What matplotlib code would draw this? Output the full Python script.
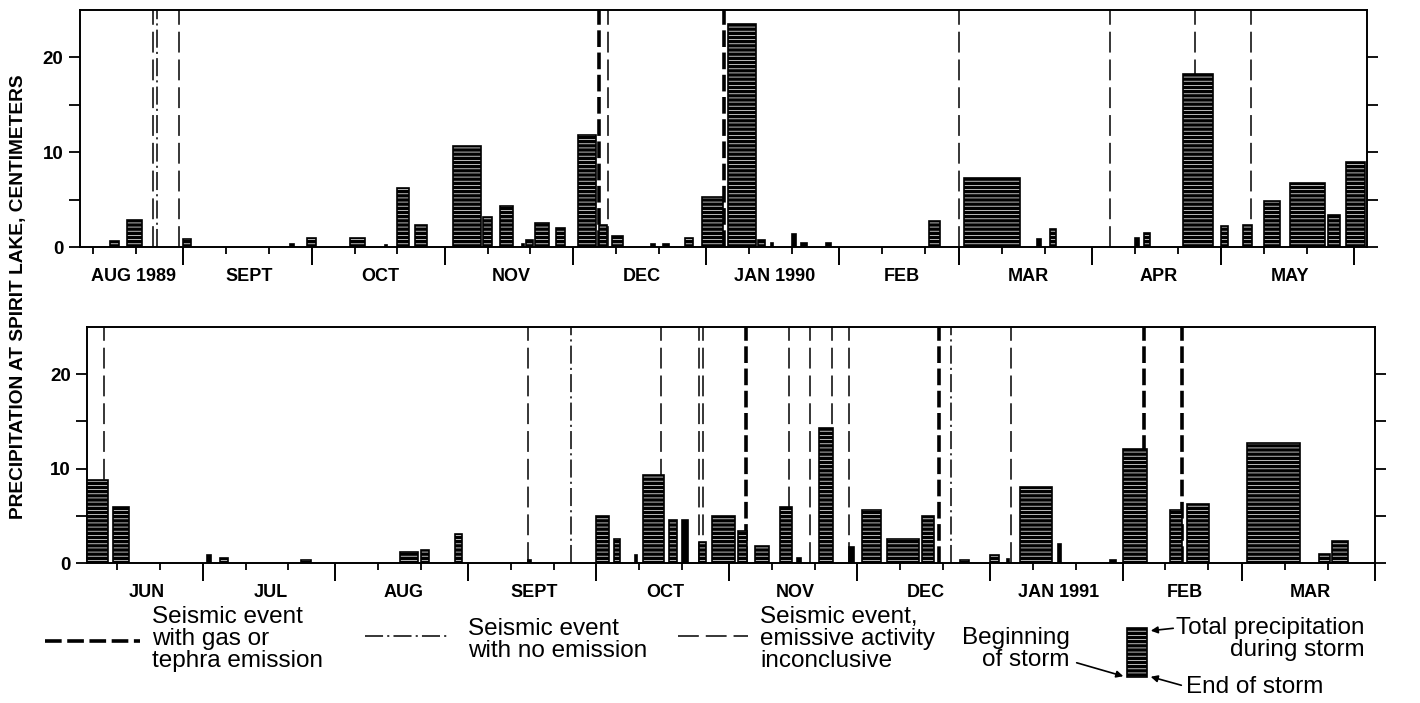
import matplotlib
matplotlib.use('Agg')
import matplotlib.pyplot as plt
import matplotlib.dates as mdates
import pandas as pd

plt.rcParams['font.family'] = ['Liberation Sans', 'DejaVu Sans']
plt.rcParams['lines.scale_dashes'] = False
plt.rcParams['hatch.linewidth'] = 0.6

# Tormentas Ago 1989 - May 1990: inicio, duracion (dias), precipitacion total (cm)
top_start = ['1989-08-15', '1989-08-19', '1989-09-01', '1989-09-26', '1989-09-30', '1989-10-10',
             '1989-10-18', '1989-10-21', '1989-10-25', '1989-11-03', '1989-11-10', '1989-11-14',
             '1989-11-19', '1989-11-20', '1989-11-22', '1989-11-27', '1989-12-02', '1989-12-07',
             '1989-12-10', '1989-12-19', '1989-12-22', '1989-12-27', '1989-12-31', '1990-01-06',
             '1990-01-13', '1990-01-16', '1990-01-21', '1990-01-23', '1990-01-29', '1990-02-22',
             '1990-03-02', '1990-03-19', '1990-03-22', '1990-04-11', '1990-04-13', '1990-04-22',
             '1990-05-01', '1990-05-06', '1990-05-11', '1990-05-17', '1990-05-26', '1990-05-30']
top_days = [2.0, 3.4, 1.8, 0.9, 1.9, 3.5, 0.5, 2.8, 2.9, 6.5, 2.0, 3.0, 0.4, 1.5, 3.4, 2.0,
            4.3, 1.9, 2.5, 1.1, 1.4, 2.0, 4.9, 6.5, 1.6, 0.5, 1.0, 1.4, 1.1, 2.5, 13.1, 1.1,
            1.5, 0.9, 1.5, 7.0, 1.5, 2.3, 3.7, 8.1, 2.6, 4.6]
top_cm = [0.6, 2.8, 0.85, 0.3, 0.9, 0.9, 0.2, 6.25, 2.3, 10.7, 3.15, 4.35, 0.3, 0.75, 2.55, 2.0,
          11.8, 2.3, 1.15, 0.3, 0.3, 0.9, 5.3, 23.5, 0.75, 0.45, 1.35, 0.4, 0.45, 2.75, 7.25, 0.8,
          1.9, 0.9, 1.45, 18.3, 2.25, 2.3, 4.85, 6.75, 3.35, 9.0]
top_gas = ['1989-12-07', '1990-01-05']
top_none = ['1989-08-26']
top_inconc = ['1989-08-25', '1989-08-31', '1989-12-09', '1990-03-01', '1990-04-05', '1990-04-25', '1990-05-08']
top_months = ['AUG 1989', 'SEPT', 'OCT', 'NOV', 'DEC', 'JAN 1990', 'FEB', 'MAR', 'APR', 'MAY']

# Tormentas Jun 1990 - Mar 1991
bot_start = ['1990-06-04', '1990-06-10', '1990-07-02', '1990-07-05', '1990-07-24', '1990-08-16',
             '1990-08-21', '1990-08-29', '1990-09-15', '1990-10-01', '1990-10-05', '1990-10-10',
             '1990-10-12', '1990-10-18', '1990-10-21', '1990-10-25', '1990-10-28', '1990-11-03',
             '1990-11-07', '1990-11-13', '1990-11-17', '1990-11-22', '1990-11-29', '1990-12-02',
             '1990-12-08', '1990-12-16', '1990-12-25', '1991-01-01', '1991-01-05', '1991-01-08',
             '1991-01-17', '1991-01-29', '1991-02-01', '1991-02-12', '1991-02-16', '1991-03-02',
             '1991-03-19', '1991-03-22']
bot_days = [4.9, 3.8, 0.9, 1.9, 2.4, 4.2, 1.8, 1.7, 0.8, 3.0, 1.5, 0.45, 4.9, 1.9, 1.4, 1.6,
            5.3, 2.3, 3.4, 2.7, 0.8, 3.4, 1.2, 4.6, 7.5, 2.8, 2.0, 2.0, 0.5, 7.6, 0.7, 1.4,
            5.8, 2.9, 5.3, 12.5, 2.4, 3.8]
bot_cm = [8.75, 5.9, 0.85, 0.6, 0.3, 1.15, 1.4, 3.1, 0.3, 5.05, 2.55, 0.85, 9.3, 4.55, 4.55, 2.25,
          5.05, 3.4, 1.85, 5.9, 0.6, 14.3, 1.7, 5.6, 2.55, 5.05, 0.3, 0.85, 0.45, 8.1, 2.0, 0.3,
          12.1, 5.65, 6.25, 12.7, 0.95, 2.35]
bot_gas = ['1990-11-05', '1990-12-20', '1991-02-06', '1991-02-15']
bot_none = ['1990-09-25', '1990-12-23']
bot_inconc = ['1990-06-08', '1990-09-15', '1990-10-16', '1990-10-25', '1990-10-26', '1990-11-15',
              '1990-11-20', '1990-11-25', '1990-11-29', '1991-01-06']
bot_months = ['JUN', 'JUL', 'AUG', 'SEPT', 'OCT', 'NOV', 'DEC', 'JAN 1991', 'FEB', 'MAR']

estilos = {
    'gas': dict(color='black', lw=2.6, dashes=(12, 4)),
    'none': dict(color='black', lw=1.1, dashes=(13, 3, 1.5, 3)),
    'inconc': dict(color='black', lw=1.1, dashes=(15, 5)),
}
negrita = dict(fontweight='bold', fontsize=13)


def barras(ax, starts, days, cm):
    x = mdates.date2num(pd.to_datetime(starts))
    for xi, w, h in zip(x, days, cm):
        rayas = '----' if w >= 1.5 else None
        ax.bar(xi, h, width=w, align='edge', facecolor='black', edgecolor='#d8d8d8',
               hatch=rayas, linewidth=0, zorder=3)
        ax.bar(xi, h, width=w, align='edge', fill=False, edgecolor='black', linewidth=1.2, zorder=4)


def panel(ax, x0, x1, starts, days, cm, gas, none, inconc, meses):
    x0, x1 = pd.Timestamp(x0), pd.Timestamp(x1)
    for fechas, tipo in ((inconc, 'inconc'), (none, 'none'), (gas, 'gas')):
        for f in pd.to_datetime(fechas):
            ax.axvline(f, zorder=2, **estilos[tipo])
    barras(ax, starts, days, cm)
    ax.set_xlim(x0, x1)
    ax.set_ylim(0, 25)
    ax.xaxis.set_major_locator(mdates.MonthLocator())
    ax.xaxis.set_minor_locator(mdates.DayLocator(bymonthday=[11, 21]))
    ax.xaxis.set_major_formatter(plt.NullFormatter())
    ax.tick_params(axis='x', which='major', direction='out', length=13, width=1.4)
    ax.tick_params(axis='x', which='minor', direction='out', length=5, width=1.3)
    ax.set_yticks([0, 10, 20])
    ax.set_yticks([5, 15], minor=True)
    ax.tick_params(axis='y', which='both', direction='out', left=True, right=True,
                   length=8, width=1.3, labelsize=13.5, pad=4)
    for t in ax.get_yticklabels():
        t.set_fontweight('bold')
    for s in ax.spines.values():
        s.set_linewidth(1.4)
    # nombres de los meses, centrados en la parte visible de cada mes
    inicios = pd.date_range(x0.to_period('M').to_timestamp(), x1, freq='MS')
    for ms, nombre in zip(inicios, meses):
        me = ms + pd.offsets.MonthBegin(1)
        mid = max(ms, x0) + (min(me, x1) - max(ms, x0)) / 2 + pd.Timedelta(hours=12)
        ax.text(mid, -0.125, nombre, transform=ax.get_xaxis_transform(),
                ha='center', va='center', **negrita)


fig = plt.figure(figsize=(14.2, 7.03), dpi=100)
ax1 = fig.add_axes([80 / 1420, 1 - 247 / 703, 1287 / 1420, 237 / 703])
ax2 = fig.add_axes([87.3 / 1420, 1 - 563.3 / 703, 1287.7 / 1420, 236.6 / 703])

panel(ax1, '1989-08-08', '1990-06-04', top_start, top_days, top_cm,
      top_gas, top_none, top_inconc, top_months)
panel(ax2, '1990-06-04', '1991-04-01', bot_start, bot_days, bot_cm,
      bot_gas, bot_none, bot_inconc, bot_months)

fig.text(19 / 1420, 1 - 297 / 703, 'PRECIPITATION AT SPIRIT LAKE, CENTIMETERS',
         rotation=90, ha='center', va='center', fontweight='bold', fontsize=13.8)

# Leyenda (coordenadas en pixeles de la figura)
ov = fig.add_axes([0, 0, 1, 1])
ov.set_xlim(0, 1420)
ov.set_ylim(703, 0)
ov.axis('off')
ov.patch.set_alpha(0)

txt = dict(fontsize=17.5, va='center', linespacing=1.0)
ov.plot([45, 140], [641, 641], **estilos['gas'])
ov.text(152, 639, 'Seismic event\nwith gas or\ntephra emission', ha='left', **txt)
ov.plot([365, 449], [636, 636], **estilos['none'])
ov.text(468, 640, 'Seismic event\nwith no emission', ha='left', **txt)
ov.plot([678, 748], [636, 636], **estilos['inconc'])
ov.text(760, 639, 'Seismic event,\nemissive activity\ninconclusive', ha='left', **txt)

ov.text(1070, 649, 'Beginning\nof storm', ha='right', **txt)
ov.bar(1127, 677 - 628, width=20, bottom=628, align='edge', facecolor='black',
       edgecolor='#d8d8d8', hatch='----', linewidth=0)
ov.bar(1127, 677 - 628, width=20, bottom=628, align='edge', fill=False,
       edgecolor='black', linewidth=1.2)
ov.text(1176, 639, 'Total precipitation\nduring storm', ha='left', multialignment='right', **txt)
ov.text(1186, 687, 'End of storm', ha='left', **txt)
flecha = dict(arrowstyle='-|>', color='black', lw=1.2, mutation_scale=10)
ov.annotate('', xy=(1148, 631), xytext=(1176, 628), arrowprops=flecha)
ov.annotate('', xy=(1148, 676), xytext=(1184, 686), arrowprops=flecha)
ov.annotate('', xy=(1126, 677), xytext=(1074, 662), arrowprops=flecha)

fig.savefig('out.png', dpi=100)
